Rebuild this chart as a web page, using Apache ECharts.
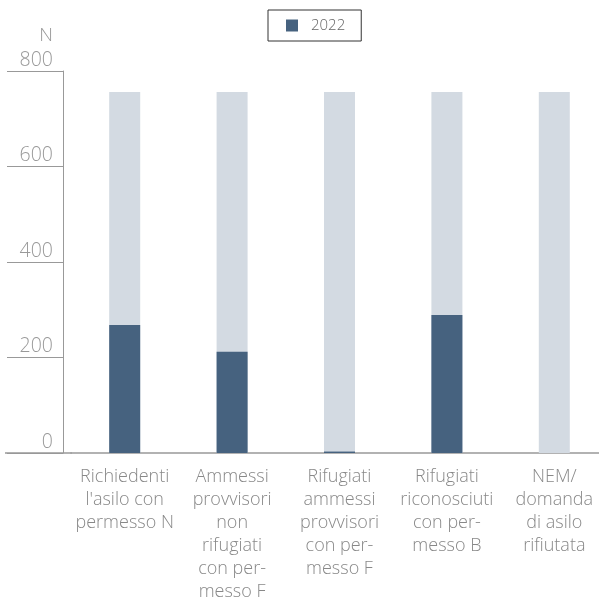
<!DOCTYPE html>
<html><head><meta charset="utf-8">
<script src="https://cdn.jsdelivr.net/npm/echarts@6/dist/echarts.min.js"></script>
<style>html,body{margin:0;padding:0;background:#fff}#c{width:599px;height:599px}</style>
</head><body><div id="c"></div>
<script>
var categories = ["Richiedenti\nl'asilo con\npermesso N","Ammessi\nprovvisori\nnon\nrifugiati\ncon per-\nmesso F","Rifugiati\nammessi\nprovvisori\ncon per-\nmesso F","Rifugiati\nriconosciuti\ncon per-\nmesso B","NEM/\ndomanda\ndi asilo\nrifiutata"];
var values2022 = [268, 212, 3, 289, 0];
var backgroundValues = [756, 756, 756, 756, 756];
var yTicks = [0, 200, 400, 600, 800];
var seriesName = "2022";

var FONT = "'Open Sans'";
var chart = echarts.init(document.getElementById('c'), null, {renderer:'canvas'});
var option = {
  animation:false,
  legend:{
    data:[seriesName], top:10, left:268,
    borderColor:'#333', borderWidth:1, borderRadius:0,
    padding:[8,16,8,18], itemWidth:12, itemHeight:12, icon:'rect',
    textStyle:{color:'#666', fontSize:15, fontFamily:FONT, fontWeight:300, padding:[0,0,0,8]}
  },
  grid:{left:71, width:537, top:71, bottom:146, containLabel:false, outerBoundsMode:'none'},
  xAxis:{
    type:'category', data:categories,
    axisLine:{show:true, lineStyle:{color:'#999', width:1.5}},
    axisTick:{show:false},
    axisLabel:{interval:0, color:'#888', fontSize:18, lineHeight:23, fontFamily:FONT, fontWeight:300, margin:12}
  },
  yAxis:{
    type:'value', min:yTicks[0], max:yTicks[yTicks.length-1], interval:200, offset:8,
    name:'N', nameLocation:'end', nameGap:26,
    nameTextStyle:{color:'#999', fontSize:19, fontFamily:FONT, fontWeight:300, align:'right', padding:[0,10,0,0]},
    axisLine:{show:true, lineStyle:{color:'#999', width:1}},
    axisTick:{show:true, length:56, lineStyle:{color:'#999', width:1}},
    splitLine:{show:false},
    axisLabel:{color:'#999', fontSize:19.5, fontFamily:FONT, fontWeight:300, margin:10, verticalAlign:'bottom', padding:[0,0,1,0]}
  },
  series:[
    {name:'bg', type:'bar', data:backgroundValues, barWidth:31, barGap:'-100%', itemStyle:{color:'#d3dae2'}, silent:true, z:1},
    {name:seriesName, type:'bar', data:values2022, barWidth:31, itemStyle:{color:'#46627f'}, z:2}
  ]
};
chart.setOption(option);
var p0 = chart.convertToPixel({gridIndex:0}, [0, 0]);
var gl = chart.convertToPixel({xAxisIndex:0}, 0) - 54;
chart.setOption({graphic:[{type:'line', shape:{x1:5, y1:p0[1], x2:gl+1, y2:p0[1]}, style:{stroke:'#999', lineWidth:1.5}, z:10}]});
</script></body></html>
